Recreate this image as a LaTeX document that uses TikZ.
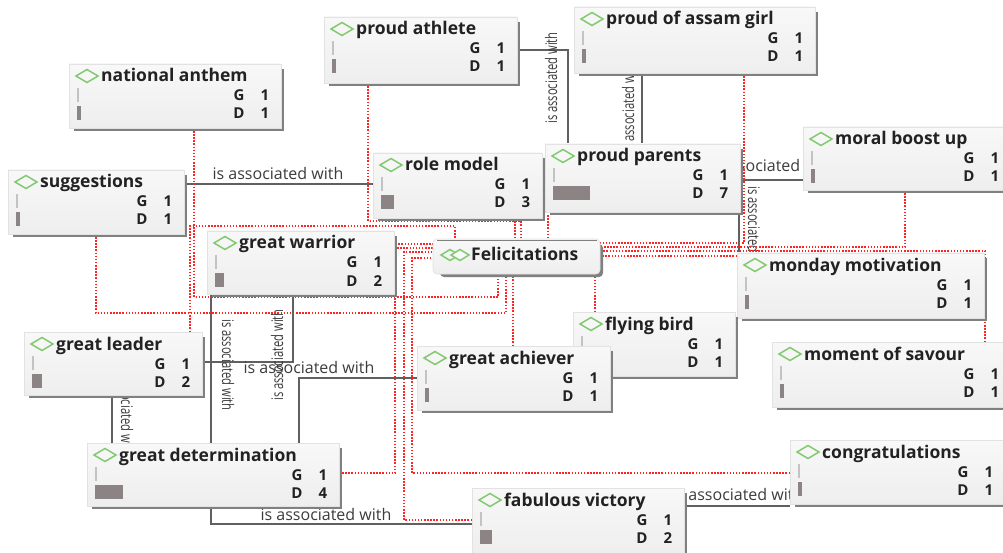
\documentclass[tikz,border=0pt]{standalone}
\usepackage{fontspec}
\setmainfont{Open Sans}
\pgfdeclarelayer{links}
\pgfsetlayers{links,main}

\definecolor{shadowgray}{RGB}{128,128,128}
\definecolor{boxtop}{RGB}{248,248,248}
\definecolor{boxbot}{RGB}{238,238,238}
\definecolor{boxedge}{RGB}{226,226,226}
\definecolor{codegreen}{RGB}{130,202,112}
\definecolor{linkgray}{RGB}{96,96,96}
\definecolor{dotred}{RGB}{255,35,35}
\definecolor{txt}{RGB}{34,34,34}
\definecolor{lbl}{RGB}{60,60,60}
\definecolor{barD}{RGB}{140,132,132}
\definecolor{barG}{RGB}{195,195,195}

\tikzset{
  boxbody/.style={rectangle, draw=boxedge, line width=0.6pt, top color=boxtop, bottom color=boxbot, inner sep=0pt, outer sep=0pt},
  assoc/.style={draw=linkgray, line width=1.7pt},
  dots/.style={draw=dotred, line width=1.5pt, dash pattern=on 1.5pt off 1.6pt},
  assoclabel/.style={font=\fontsize{16}{18}\selectfont, text=lbl, inner sep=0pt},
  titletext/.style={font=\fontsize{17.5}{19}\selectfont\bfseries, text=txt, inner sep=0pt},
  counttext/.style={font=\fontsize{15}{17}\selectfont\bfseries, text=txt, inner sep=0pt},
  diamondicon/.style={draw=codegreen, line width=1.5pt, line join=miter},
}
% vertical link labels are set narrower
\newcommand\uplabel[1]{\scalebox{0.7}[1]{#1}}

% code box: name, left, top, right, bottom (shadow included), title, G, D, D-bar width
\newcommand\codebox[9]{%
  \pgfmathsetmacro\cbw{#4-#2-3}%
  \pgfmathsetmacro\cbh{#5-#3-3}%
  \fill[shadowgray] (#2+5,#3+5) rectangle (#4,#5);
  \node[boxbody, anchor=north west, minimum width=\cbw pt, minimum height=\cbh pt] (#1) at (#2,#3) {};
  \draw[diamondicon] (#2+7,#3+12) -- (#2+18,#3+5.5) -- (#2+29,#3+12) -- (#2+18,#3+18.5) -- cycle;
  \node[titletext, anchor=base west] at (#2+32,#3+18) {#6};
  \fill[barG] (#2+8,#3+24) rectangle (#2+9.6,#3+38);
  \fill[barD] (#2+8,#3+42) rectangle (#2+8+#9,#3+56);
  \node[counttext, anchor=base] at (#4-45,#3+37) {G};
  \node[counttext, anchor=base] at (#4-19,#3+37) {#7};
  \node[counttext, anchor=base] at (#4-45,#3+55) {D};
  \node[counttext, anchor=base] at (#4-19,#3+55) {#8};
}

\begin{document}
\begin{tikzpicture}[x=1pt, y=-1pt]
\clip (0,0) rectangle (1003,553);

% ---- codes ----
\codebox{pa}{324}{17}{520}{86}{proud athlete}{1}{1}{4}
\codebox{pag}{574}{7}{818}{76}{proud of assam girl}{1}{1}{4}
\codebox{na}{69}{64}{284}{131}{national anthem}{1}{1}{4}
\codebox{sug}{8}{170}{187}{237}{suggestions}{1}{1}{4}
\codebox{rm}{373}{153}{545}{221}{role model}{1}{3}{13}
\codebox{pp}{545}{144}{743}{215}{proud parents}{1}{7}{37}
\codebox{mb}{803}{127}{1014}{193}{moral boost up}{1}{1}{4}
\codebox{gw}{207}{231}{397}{297}{great warrior}{1}{2}{9}
\codebox{mm}{737}{253}{987}{321}{monday motivation}{1}{1}{4}
\codebox{fb}{573}{312}{738}{379}{flying bird}{1}{1}{4}
\codebox{gl}{24}{332}{205}{398}{great leader}{1}{2}{10}
\codebox{ga}{417}{346}{613}{413}{great achiever}{1}{1}{4}
\codebox{ms}{772}{342}{1014}{410}{moment of savour}{1}{1}{4}
\codebox{gd}{87}{443}{342}{509}{great determination}{1}{4}{28}
\codebox{cg}{790}{440}{1008}{507}{congratulations}{1}{1}{4}
\codebox{fv}{472}{488}{687}{556}{fabulous victory}{1}{2}{12}

% ---- code group ----
\fill[shadowgray, rounded corners=4pt] (440,244) rectangle (603,277);
\node[boxbody, rounded corners=4pt, anchor=north west, minimum width=167pt, minimum height=35pt] (fel) at (433,239) {};
\draw[shadowgray, line width=0.8pt] (437,240.5) -- (597,240.5);
\draw[diamondicon] (441,255) -- (450,249.5) -- (459,255) -- (450,260.5) -- cycle;
\filldraw[diamondicon, fill=boxtop] (451,255) -- (460,249.5) -- (469,255) -- (460,260.5) -- cycle;
\node[titletext, anchor=base west] at (471,261) {Felicitations};

% ---- links ----
\begin{pgfonlayer}{links}
  \fill[white] (0,0) rectangle (1003,553);
  % associations
  \draw[assoc] (sug.east |- 0,184) -- (rm.west |- 0,184);
  \node[assoclabel] at (278,174) {is associated with};

  \draw[assoc] (pa.east |- 0,50) -- (568,50) -- (pp.north -| 568,0);
  \node[assoclabel, rotate=90] at (551,78) {\uplabel{is associated with}};

  \draw[assoc] (pag.south -| 642,0) -- (pp.north -| 642,0);
  \node[assoclabel, rotate=90] at (628,107) {\uplabel{is associated with}};

  \draw[assoc] (pp.east |- 0,180) -- (mb.west |- 0,180);
  \node[assoclabel] at (771,166) {is associated with};

  \draw[assoc] (pp.south -| 739,0) -- (mm.north -| 739,0);
  \node[assoclabel, rotate=-90] at (754,232) {\uplabel{is associated with}};

  \draw[assoc] (gw.south -| 293,0) -- (293,362) -- (gl.east |- 0,362);
  \node[assoclabel, rotate=90] at (277,355) {\uplabel{is associated with}};

  \draw[assoc] (gw.south -| 211,0) -- (gd.north -| 211,0);
  \node[assoclabel, rotate=-90] at (228,365) {\uplabel{is associated with}};

  \draw[assoc] (gl.south -| 112,0) -- (gd.north -| 112,0);
  \node[assoclabel, rotate=-90] at (127,411) {\uplabel{is associated with}};

  \draw[assoc] (gd.north -| 299,0) -- (299,378) -- (ga.west |- 0,378);
  \node[assoclabel] at (309,367) {is associated with};

  \draw[assoc] (gd.south -| 211,0) -- (211,524) -- (fv.west |- 0,524);
  \node[assoclabel] at (326,514) {is associated with};

  \draw[assoc] (fv.east |- 0,506) -- (cg.west |- 0,506);
  \node[assoclabel] at (738,494) {is associated with};

  % members of the group
  \draw[dots] (pa.south -| 368,0) -- (368,221) -- (521,221) -- (fel.north -| 521,0);
  \draw[dots] (rm.south -| 515,0) -- (fel.north -| 515,0);
  \draw[dots] (pp.south -| 548,0) -- (fel.north -| 548,0);
  \draw[dots] (gl.north -| 190,0) -- (190,226) -- (455,226) -- (fel.north -| 455,0);
  \draw[dots] (na.south -| 194,0) -- (194,297) -- (498,297) -- (fel.south -| 498,0);
  \draw[dots] (sug.south -| 96,0) -- (96,313) -- (506,313) -- (fel.south -| 506,0);
  \draw[dots] (ga.north -| 513,0) -- (fel.south -| 513,0);
  \draw[dots] (fb.north -| 595,0) -- (fel.south -| 595,0);
  \draw[dots] (gd.east |- 0,473) -- (395,473) -- (395,244) -- (fel.west |- 0,244);
  \draw[dots] (fv.west |- 0,520) -- (404,520) -- (404,252) -- (fel.west |- 0,252);
  \draw[dots] (cg.west |- 0,473) -- (412,473) -- (412,258) -- (fel.west |- 0,258);
  \draw[dots] (gw.east |- 0,248) -- (fel.west |- 0,248);
  \draw[dots] (pag.south -| 744,0) -- (744,243) -- (fel.east |- 0,243);
  \draw[dots] (mb.south -| 905,0) -- (905,247) -- (fel.east |- 0,247);
  \draw[dots] (ms.north -| 985,0) -- (985,251) -- (fel.east |- 0,251);
  \draw[dots] (mm.west |- 0,256) -- (fel.east |- 0,256);
\end{pgfonlayer}
\end{tikzpicture}
\end{document}
